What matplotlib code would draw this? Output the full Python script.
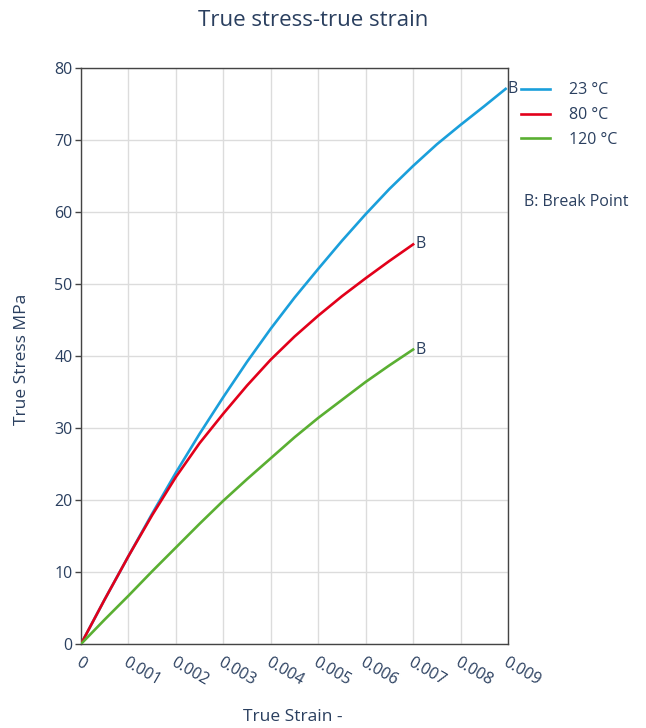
import matplotlib
matplotlib.use("Agg")
import matplotlib.pyplot as plt

plt.rcParams["font.family"] = ["Open Sans", "DejaVu Sans"]

strain_23 = [0, 0.0005, 0.001, 0.0015, 0.002, 0.0025, 0.003, 0.0035, 0.004, 0.0045,
             0.005, 0.0055, 0.006, 0.0065, 0.007, 0.0075, 0.008, 0.0085, 0.00895]
stress_23 = [0, 6.2, 12.2, 18.1, 23.8, 29.2, 34.3, 39.2, 43.8, 48.1,
             52.1, 56.0, 59.7, 63.2, 66.4, 69.4, 72.1, 74.7, 77.1]

strain_80 = [0, 0.0005, 0.001, 0.0015, 0.002, 0.0025, 0.003, 0.0035, 0.004, 0.0045,
             0.005, 0.0055, 0.006, 0.0065, 0.007]
stress_80 = [0, 6.2, 12.2, 17.9, 23.2, 27.9, 32.0, 35.9, 39.5, 42.7,
             45.6, 48.3, 50.8, 53.2, 55.5]

strain_120 = [0, 0.0005, 0.001, 0.0015, 0.002, 0.0025, 0.003, 0.0035, 0.004, 0.0045,
              0.005, 0.0055, 0.006, 0.0065, 0.007]
stress_120 = [0, 3.4, 6.7, 10.1, 13.4, 16.7, 19.9, 22.9, 25.8, 28.7,
              31.4, 33.9, 36.4, 38.7, 40.9]

labels = ["23 °C", "80 °C", "120 °C"]
colors = ["#1a9fdb", "#e2001a", "#5aaf32"]
x_ticks = [0, 0.001, 0.002, 0.003, 0.004, 0.005, 0.006, 0.007, 0.008, 0.009]
x_ticklabels = ["0", "0.001", "0.002", "0.003", "0.004", "0.005", "0.006", "0.007", "0.008", "0.009"]
y_ticks = [0, 10, 20, 30, 40, 50, 60, 70, 80]

txt = "#2a3f5f"

fig = plt.figure(figsize=(6.46, 7.28), dpi=100)
ax = fig.add_axes([0.1254, 0.1154, 0.661, 0.7912])

# one line per temperature, with a "B" at the break point
series = [(strain_23, stress_23), (strain_80, stress_80), (strain_120, stress_120)]
for (xs, ys), lab, c in zip(series, labels, colors):
    ax.plot(xs, ys, color=c, lw=1.9, label=lab, solid_joinstyle="round", zorder=3)
    ax.annotate("B", (xs[-1], ys[-1]), xytext=(1.5, 0), textcoords="offset points",
                ha="left", va="center", color=txt, fontsize=11.5, annotation_clip=False)

ax.set_xlim(0, 0.009)
ax.set_ylim(0, 80)
ax.set_xticks(x_ticks)
ax.set_xticklabels(x_ticklabels, rotation=-30, ha="left", va="top", rotation_mode="anchor")
ax.set_yticks(y_ticks)
ax.tick_params(axis="x", length=0, pad=8, labelsize=11.5, labelcolor=txt)
ax.tick_params(axis="y", length=4, width=1, color="#444444", pad=2, labelsize=11.5, labelcolor=txt)
ax.grid(True, color="#dcdcdc", lw=1, zorder=0)
ax.set_axisbelow(True)
for s in ax.spines.values():
    s.set_color("#444444")
    s.set_linewidth(1)

fig.text(0.4525, 1 - 717 / 728, "True Strain -", ha="center", va="center",
         color=txt, fontsize=12.5)
fig.text(22 / 646, 1 - 359 / 728, "True Stress MPa", ha="center", va="center",
         rotation=90, color=txt, fontsize=12.5)
fig.text(0.4845, 1 - 20 / 728, "True stress-true strain", ha="center", va="center",
         color=txt, fontsize=16)

leg = ax.legend(loc="upper left", bbox_to_anchor=(1.03, 0.975), frameon=False,
                handlelength=1.8, handletextpad=1.2, labelspacing=0.55,
                borderaxespad=0, borderpad=0, fontsize=11.5)
for t in leg.get_texts():
    t.set_color(txt)
fig.text(524 / 646, 1 - 202 / 728, "B: Break Point", ha="left", va="center",
         color=txt, fontsize=11.5)

fig.savefig("out.png", dpi=100)
